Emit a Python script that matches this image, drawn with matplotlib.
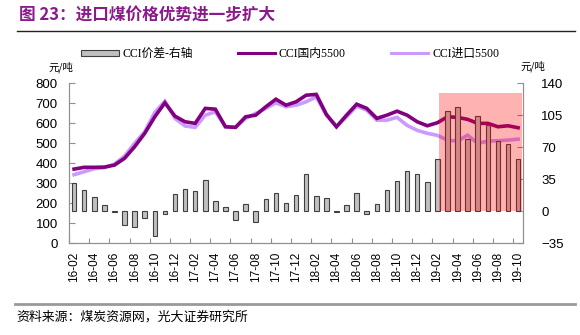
import numpy as np
import matplotlib.pyplot as plt
from matplotlib.patches import Rectangle, Patch
from matplotlib.lines import Line2D

plt.rcParams['font.family'] = ['Liberation Sans', 'Noto Sans CJK SC']

# months 16-02 .. 19-10
months = []
for y in range(16, 20):
    for m in range(1, 13):
        if (y == 16 and m < 2) or (y == 19 and m > 10):
            continue
        months.append("%02d-%02d" % (y, m))

domestic = [371, 380, 380, 381, 391, 425, 483, 550, 633, 703, 636, 608, 600, 675, 671,
            583, 580, 633, 641, 683, 721, 691, 708, 741, 745, 645, 583, 641, 696, 675,
            625, 641, 661, 641, 608, 588, 603, 633, 630, 620, 600, 600, 583, 588, 578]
imported = [343, 358, 373, 378, 396, 436, 500, 558, 655, 711, 625, 587, 580, 641, 658,
            583, 580, 625, 650, 675, 703, 683, 691, 708, 733, 641, 583, 633, 686, 666,
            616, 616, 630, 590, 565, 550, 540, 516, 511, 541, 500, 511, 513, 516, 521]
spread = [31, 23.7, 15.7, 6.5, -1, -14.6, -16.8, -7.3, -27, -3, 19.4, 24.8, 22.6, 34.6, 10.9,
          5, -9.8, 8, -11.7, 13.5, 20, 9.1, 18.2, 41, 16.4, 14.6, -1, 7.3, 20, -3,
          8, 23.7, 33.2, 43.7, 40.5, 32, 57.2, 110, 114, 79, 104, 95, 76.5, 74, 57]

left_ticks = [0, 100, 200, 300, 400, 500, 600, 700, 800]
right_ticks = [-35, 0, 35, 70, 105, 140]

# highlighted window (x in category units, y in right-axis units)
box_x0, box_x1, box_top = 36.2, 44.4, 129

dark = '#800080'
light = '#CC99FF'
grey = '#909090'

fig = plt.figure(figsize=(5.8, 3.35), dpi=100)
ax = fig.add_axes([0.119, 0.274, 0.783, 0.477])
ax2 = ax.twinx()

x = np.arange(len(months))
ax.plot(x, domestic, color=dark, lw=2.6, solid_joinstyle='miter', zorder=3)
ax.plot(x, imported, color=light, lw=2.6, solid_joinstyle='miter', zorder=2)
ax2.bar(x, spread, width=0.45, color='#C0C0C0', edgecolor='#404040', lw=0.8, zorder=2)
ax2.add_patch(Rectangle((box_x0, 0), box_x1 - box_x0, box_top, facecolor='red',
                        alpha=0.3, edgecolor='none', zorder=5))

ax.set_xlim(-0.5, len(months) - 0.5)
ax.set_ylim(0, 800)
ax2.set_ylim(-35, 140)
ax.set_yticks(left_ticks)
ax2.set_yticks(right_ticks)

ax.set_xticks(np.arange(-0.5, len(months), 2))
ax.set_xticklabels([])
ax.set_xticks(x[::2], minor=True)
ax.set_xticklabels(months[::2], minor=True, rotation=90, fontsize=8.5)
ax.tick_params(axis='x', which='major', direction='in', length=3.5, color=grey)
ax.tick_params(axis='x', which='minor', length=0, pad=6)
ax.tick_params(axis='y', direction='in', length=4, color=grey, labelsize=9.5, pad=8)
ax2.tick_params(axis='y', direction='in', length=4, color=grey, labelsize=9.5, pad=13)

for a in (ax, ax2):
    a.spines['top'].set_visible(False)
    for s in ('left', 'right', 'bottom'):
        a.spines[s].set_color(grey)

fig.text(0.083, 0.8, '元/吨', fontsize=7.5, family=['Noto Sans CJK SC'], ha='left', va='center')
fig.text(0.897, 0.803, '元/吨', fontsize=7.5, family=['Noto Sans CJK SC'], ha='left', va='center')

handles = [Patch(facecolor='#C0C0C0', edgecolor='#404040', lw=0.8),
           Line2D([], [], color=dark, lw=2.2),
           Line2D([], [], color=light, lw=2.2)]
labels = ['CCI价差-右轴', 'CCI国内5500', 'CCI进口5500']
fig.legend(handles, labels, loc='center', bbox_to_anchor=(0.5, 0.838), ncol=3,
           frameon=False, handlelength=3.2, handleheight=0.5, handletextpad=0.3,
           columnspacing=3.8, prop={'family': ['Liberation Serif', 'Noto Sans CJK SC'], 'size': 8.5})

fig.text(0.032, 0.955, '图 23：进口煤价格优势进一步扩大', fontsize=12, fontweight='bold',
         color='#8B1A8B', family=['Noto Sans CJK SC'], ha='left', va='center')
fig.add_artist(Line2D([0.029, 0.992], [0.908, 0.908], color='#222222', lw=1))
fig.add_artist(Line2D([0.026, 0.992], [0.092, 0.092], color='#999999', lw=2))
fig.text(0.029, 0.052, '资料来源：煤炭资源网，光大证券研究所', fontsize=9.3,
         family=['Noto Sans CJK SC'], ha='left', va='center')

fig.savefig('out.png', dpi=100)
